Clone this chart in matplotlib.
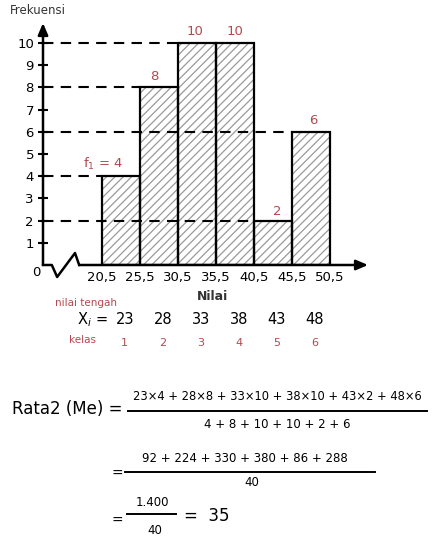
import numpy as np
import matplotlib.pyplot as plt
from matplotlib.lines import Line2D
import matplotlib.transforms as mtransforms

# data
batas = [20.5, 25.5, 30.5, 35.5, 40.5, 45.5, 50.5]
frekuensi = [4, 8, 10, 10, 2, 6]
nilai_tengah = [23, 28, 33, 38, 43, 48]
kelas = [1, 2, 3, 4, 5, 6]
label_bar = ["f$_1$ = 4", "8", "10", "10", "2", "6"]
y_ticks = [1, 2, 3, 4, 5, 6, 7, 8, 9, 10]

W, H = 437, 541
RED = "#b5484f"
plt.rcParams['hatch.linewidth'] = 0.9
plt.rcParams['hatch.color'] = "#9a9a9a"

fig = plt.figure(figsize=(W / 100, H / 100), dpi=100)


def fx(px):
    return px / W


def fy(py):
    return 1 - py / H


# axes placed so that 20.5..50.5 and 0..10 land where the sketch has them
ax = fig.add_axes([fx(43), fy(265), fx(368) - fx(43), fy(23) - fy(265)])
ax.set_xlim(12.74, 55.5)
ax.set_ylim(0, 10.9)
for s in ax.spines.values():
    s.set_visible(False)

lebar = np.diff(batas)
kiri = np.array(batas[:-1])
ax.bar(kiri, frekuensi, width=lebar, align='edge', color='white',
       hatch='////', edgecolor="#9a9a9a", linewidth=0, zorder=2)
ax.bar(kiri, frekuensi, width=lebar, align='edge', fill=False,
       edgecolor='black', linewidth=1.6, zorder=3)

# dashed guide lines to the first bar of each height
for f in sorted(set(frekuensi)):
    i = frekuensi.index(f)
    ax.hlines(f, ax.get_xlim()[0], batas[i], colors='black',
              linestyles=(0, (5, 3.5)), linewidth=1.5, zorder=4)

# bar labels
geser = [-2.3, -0.6, -0.2, 0, 0.6, 0.3]
naik = [0.55, 0.5, 0.5, 0.5, 0.4, 0.5]
for i, f in enumerate(frekuensi):
    xc = kiri[i] + lebar[i] / 2 + geser[i]
    ax.text(xc, f + naik[i], label_bar[i], color=RED, fontsize=9.5,
            ha='center', va='center', fontfamily='DejaVu Sans', zorder=5)

# axes lines with arrows
ax.annotate("", xy=(0, 1), xytext=(0, 0), xycoords='axes fraction',
            arrowprops=dict(arrowstyle='-|>,head_length=0.7,head_width=0.3',
                            color='black', lw=1.8, shrinkA=0, shrinkB=0),
            annotation_clip=False)
ax.annotate("", xy=(55.5, 0), xytext=(17.5, 0), xycoords='data',
            arrowprops=dict(arrowstyle='-|>,head_length=0.7,head_width=0.3',
                            color='black', lw=1.8, shrinkA=0, shrinkB=0),
            annotation_clip=False)
# axis break zigzag
ax.plot([12.74, 13.9, 14.6, 16.95, 17.5], [0, 0, -0.54, 0.54, 0],
        color='black', lw=1.8, clip_on=False, zorder=5)

ax.set_yticks(y_ticks)
ax.set_yticklabels([str(t) for t in y_ticks], fontsize=9.5)
ax.tick_params(axis='y', direction='inout', length=7, width=1.5, pad=3)
ax.set_xticks(batas)
ax.set_xticklabels([str(b).replace('.', ',') for b in batas], fontsize=9.5)
ax.tick_params(axis='x', length=0, pad=4)

fig.text(fx(36), fy(272), "0", fontsize=9.5, ha='center', va='center')
fig.text(fx(10), fy(11), "Frekuensi", fontsize=8.5, ha='left', va='center',
         color='#333333')
fig.text(fx(212), fy(296), "Nilai", fontsize=9, ha='center', va='center',
         color='#333333', fontweight='bold')

# middle values and class numbers
tr = mtransforms.blended_transform_factory(ax.transData, fig.transFigure)
fig.text(fx(86), fy(303), "nilai tengah", fontsize=7.5, color=RED,
         ha='center', va='center')
fig.text(fx(92), fy(320), "X$_i$ =", fontsize=10.5, ha='center', va='center')
fig.text(fx(83), fy(340), "kelas", fontsize=7.5, color=RED,
         ha='center', va='center')
for i in range(len(nilai_tengah)):
    xc = kiri[i] + lebar[i] / 2 + 0.5
    fig.text(xc, fy(320), str(nilai_tengah[i]), transform=tr, fontsize=10.5,
             ha='center', va='center')
    fig.text(xc, fy(343), str(kelas[i]), transform=tr, fontsize=8,
             color=RED, ha='center', va='center')

# mean calculation
num1 = " + ".join(f"{x}×{f}" for x, f in zip(nilai_tengah, frekuensi))
den1 = " + ".join(str(f) for f in frekuensi)
hasil = [x * f for x, f in zip(nilai_tengah, frekuensi)]
num2 = " + ".join(str(h) for h in hasil)
total_f = sum(frekuensi)
total_xf = sum(hasil)

fig.text(fx(12), fy(409), "Rata2 (Me) =", fontsize=12, ha='left', va='center')
fig.text(fx(277), fy(396), num1, fontsize=8.3, ha='center', va='center')
fig.add_artist(Line2D([fx(128), fx(427)], [fy(411), fy(411)], color='black', lw=1.4))
fig.text(fx(277), fy(425), den1, fontsize=8.5, ha='center', va='center')

fig.text(fx(117), fy(474), "=", fontsize=10, ha='center', va='center')
fig.text(fx(245), fy(458), num2, fontsize=8.5, ha='center', va='center')
fig.add_artist(Line2D([fx(125), fx(375)], [fy(472), fy(472)], color='black', lw=1.4))
fig.text(fx(252), fy(483), str(total_f), fontsize=8.5, ha='center', va='center')

fig.text(fx(117), fy(521), "=", fontsize=10, ha='center', va='center')
fig.text(fx(152), fy(503), f"{total_xf:,}".replace(',', '.'), fontsize=8.5,
         ha='center', va='center')
fig.add_artist(Line2D([fx(127), fx(176)], [fy(514), fy(514)], color='black', lw=1.4))
fig.text(fx(155), fy(530), str(total_f), fontsize=8.5, ha='center', va='center')
fig.text(fx(184), fy(516), f"=  {total_xf // total_f}", fontsize=12,
         ha='left', va='center')

fig.savefig("out.png", dpi=100)
